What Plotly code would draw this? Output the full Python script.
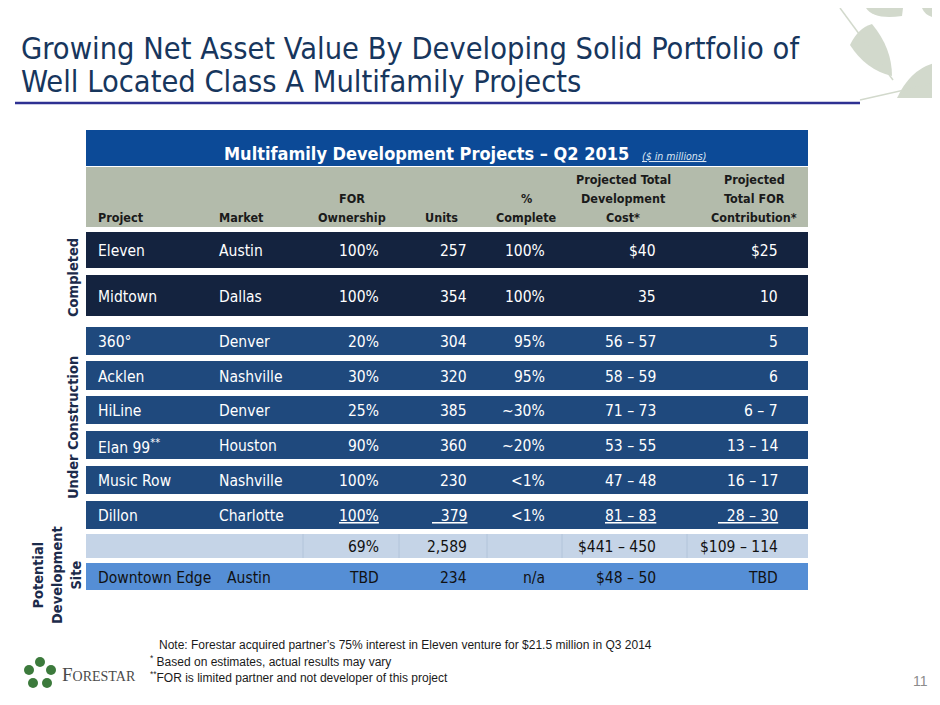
import plotly.graph_objects as go

# table data
projects = ["Eleven", "Midtown", "360°", "Acklen", "HiLine", "Elan 99<sup>**</sup>",
            "Music Row", "Dillon", "", "Downtown Edge"]
markets = ["Austin", "Dallas", "Denver", "Nashville", "Denver", "Houston",
           "Nashville", "Charlotte", "", "Austin"]
ownership = ["100%", "100%", "20%", "30%", "25%", "90%", "100%", "100%", "69%", "TBD"]
units = ["257", "354", "304", "320", "385", "360", "230", "379", "2,589", "234"]
pct_complete = ["100%", "100%", "95%", "95%", "~30%", "~20%", "<1%", "<1%", "", "n/a"]
dev_cost = ["$40", "35", "56 – 57", "58 – 59", "71 – 73", "53 – 55", "47 – 48",
            "81 – 83", "$441 – 450", "$48 – 50"]
for_contrib = ["$25", "10", "5", "6", "6 – 7", "13 – 14", "16 – 17", "28 – 30",
               "$109 – 114", "TBD"]
row_group = ["completed", "completed", "uc", "uc", "uc", "uc", "uc", "uc_last", "total", "potential"]

headers = [["Project"], ["Market"], ["FOR", "Ownership"], ["Units"], ["%", "Complete"],
           ["Projected Total", "Development", "Cost*"], ["Projected", "Total FOR", "Contribution*"]]
group_labels = ["Completed", "Under Construction", "Potential<br>Development<br>Site"]

title_lines = ["Growing Net Asset Value By Developing Solid Portfolio of",
               "Well Located Class A Multifamily Projects"]
table_title = "Multifamily Development Projects – Q2 2015"
notes = ["Note: Forestar acquired partner’s 75% interest in Eleven venture for $21.5 million in Q3 2014",
         "<sup>*</sup> Based on estimates, actual results may vary",
         "<sup>**</sup>FOR is limited partner and not developer of this project"]

# layout / style
NARROW = "DejaVu Sans Condensed, Liberation Sans Narrow, Arial Narrow, sans-serif"
NOTE_FONT = "Liberation Sans, Arial, sans-serif"
TBL_L, TBL_R = 86, 808
row_tops = [232, 275, 327, 361, 396, 431, 466, 501, 534, 563]
row_bots = [268, 316, 355, 390, 424, 459, 494, 529, 558, 590]
fills = {"completed": "#14233f", "uc": "#1f497d", "uc_last": "#1f497d",
         "total": "#c5d4e7", "potential": "#558ed5"}
txt_col = {"completed": "white", "uc": "white", "uc_last": "white",
           "total": "#111111", "potential": "#111111"}
# text anchors: (x, anchor) for each column
cols = [(96, "left"), (217, "left"), (381, "right"), (469, "right"),
        (547, "right"), (658, "right"), (780, "right")]
head_pos = [(96, "left"), (217, "left"), (352, "center"), (460, "right"),
            (526, "center"), (623, "center"), (754, "center")]
sep_x = [303, 399, 487, 562, 687]

fig = go.Figure()
shapes = []
ann = []

# title bar + header band
shapes.append(dict(type="rect", x0=TBL_L, x1=TBL_R, y0=130, y1=166,
                   fillcolor="#0c4a97", line_width=0, layer="below"))
shapes.append(dict(type="rect", x0=TBL_L, x1=TBL_R, y0=167, y1=227,
                   fillcolor="#b3bbab", line_width=0, layer="below"))
ann.append(dict(x=426, y=153, text="<b>" + table_title + "</b>", xanchor="center",
                yanchor="middle", font=dict(family=NARROW, size=18, color="white")))
ann.append(dict(x=640, y=156, text="<i><u>($ in millions)</u></i>", xanchor="left",
                yanchor="middle", font=dict(family=NARROW, size=10.5, color="#dde6f3")))
for (x, anc), h in zip(head_pos, headers):
    for k, line in enumerate(reversed(h)):
        ann.append(dict(x=x, y=217 - 19 * k, text="<b>" + line + "</b>", xanchor=anc,
                        yanchor="middle",
                        font=dict(family=NARROW, size=12.5, color="#1a1a1a")))

# rows
for i, grp in enumerate(row_group):
    y0, y1 = row_tops[i], row_bots[i]
    shapes.append(dict(type="rect", x0=TBL_L, x1=TBL_R, y0=y0, y1=y1,
                       fillcolor=fills[grp], line_width=0, layer="below"))
    if grp == "total":
        for sx in sep_x:
            shapes.append(dict(type="line", x0=sx, x1=sx, y0=y0, y1=y1,
                               line=dict(color="#b2c4da", width=1), layer="below"))
    vals = [projects[i], markets[i], ownership[i], units[i], pct_complete[i],
            dev_cost[i], for_contrib[i]]
    for c, ((x, anc), v) in enumerate(zip(cols, vals)):
        if not v:
            continue
        if grp == "potential" and c == 1:
            x = 225
        if grp == "uc_last" and c in (2, 3, 5, 6):
            v = "<u>" + "\u00a0" * (2 if c in (3, 6) else 0) + v + "</u>"
        ann.append(dict(x=x, y=(y0 + y1) / 2 + 1, text=v, xanchor=anc, yanchor="middle",
                        font=dict(family=NARROW, size=15.5, color=txt_col[grp])))

# group side labels
label_pos = [(73, 278), (73, 428), (57, 575)]
for (x, y), lab in zip(label_pos, group_labels):
    ann.append(dict(x=x, y=y, text="<b>" + lab + "</b>", textangle=-90, xanchor="center",
                    yanchor="middle", align="center",
                    font=dict(family=NARROW, size=14.5, color="#1c2b4b")))

# slide title + rule
for line, y in zip(title_lines, [48, 81]):
    ann.append(dict(x=19, y=y, text=line, xanchor="left", yanchor="middle",
                    font=dict(family=NARROW, size=30.5, color="#17365d")))
shapes.append(dict(type="line", x0=15, x1=860, y0=103, y1=103,
                   line=dict(color="#2e3192", width=2.5)))

# decorative leaves (top right)
leaf = "#d2d9cc"
shapes += [
    dict(type="path", path="M 850,45 Q 858,28 872,24 Q 892,48 892,76 Q 866,70 850,45 Z",
         fillcolor=leaf, line_width=0),
    dict(type="line", x0=840, y0=8, x1=893, y1=80, line=dict(color=leaf, width=1.5)),
    dict(type="path", path="M 866,8 Q 874,20 902,16 L 903,8 Z", fillcolor=leaf, line_width=0),
    dict(type="path", path="M 922,8 Q 926,18 940,18 L 940,8 Z", fillcolor=leaf, line_width=0),
    dict(type="path", path="M 897,98 Q 912,66 940,62 L 940,98 Z", fillcolor=leaf, line_width=0),
    dict(type="line", x0=860, y0=100, x1=940, y1=82, line=dict(color=leaf, width=1.5)),
]

# footnotes
for k, (n, y) in enumerate(zip(notes, [645, 661, 677])):
    ann.append(dict(x=157 if k == 0 else 148, y=y, text=n, xanchor="left", yanchor="middle",
                    font=dict(family=NOTE_FONT, size=12, color="#1a1a1a")))
ann.append(dict(x=920, y=681, text="11", xanchor="center", yanchor="middle",
                font=dict(family=NOTE_FONT, size=14, color="#8c8c8c")))

# logo
for cx, cy in [(40, 662), (51, 670), (47, 683), (33, 683), (29, 670)]:
    shapes.append(dict(type="circle", x0=cx - 5, x1=cx + 5, y0=cy - 5, y1=cy + 5,
                       fillcolor="#3c7a3c", line_width=0))
ann.append(dict(x=60, y=674, text="F<span style='font-size:14px'>ORESTAR</span>",
                xanchor="left", yanchor="middle",
                font=dict(family="Liberation Serif, serif", size=19, color="#4a4a4a")))

# page body has an 8px margin, so the plot area starts at page pixel 8
fig.update_layout(
    width=932, height=697, margin=dict(l=0, r=0, t=0, b=0),
    paper_bgcolor="white", plot_bgcolor="white",
    xaxis=dict(range=[8, 940], visible=False, fixedrange=True),
    yaxis=dict(range=[705, 8], visible=False, fixedrange=True),
    shapes=shapes,
    annotations=[dict(a, showarrow=False, xref="x", yref="y") for a in ann],
    showlegend=False,
)

fig.write_html("out.html")
